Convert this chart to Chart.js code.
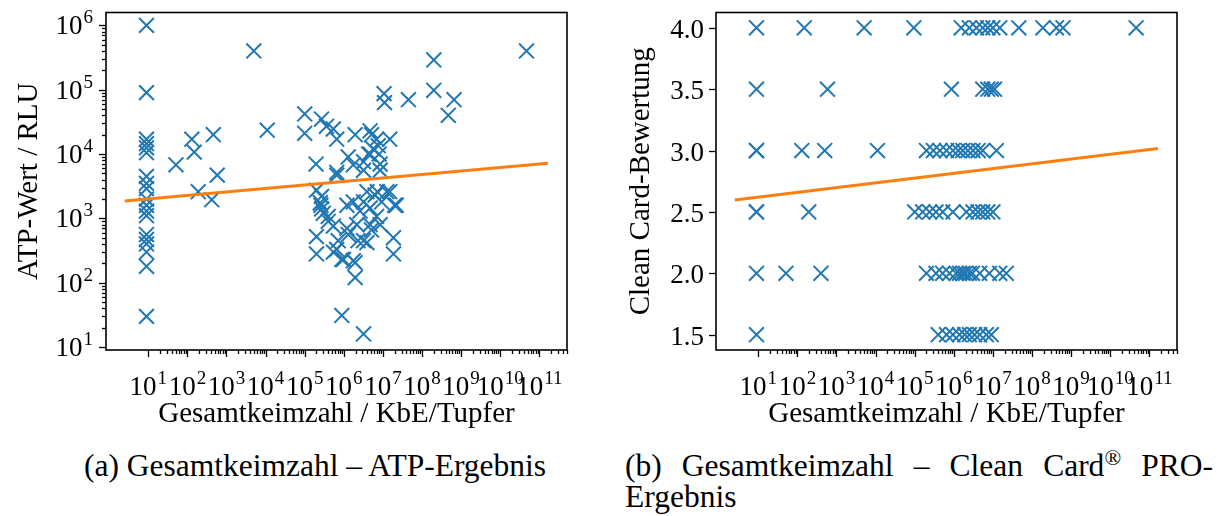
<!DOCTYPE html>
<html><head><meta charset="utf-8">
<script src="https://cdn.jsdelivr.net/npm/chart.js@4.4.1/dist/chart.umd.min.js"></script>
<style>
html,body{margin:0;padding:0;background:#fff;width:1228px;height:516px;overflow:hidden;}
#c1{position:absolute;left:0;top:0;}
#c2{position:absolute;left:614px;top:0;}
.cap{position:absolute;font-family:"Liberation Serif","DejaVu Serif",serif;font-size:31.5px;color:#000;line-height:32px;height:32px;white-space:nowrap;}
.reg{font-size:22px;line-height:0;position:relative;top:-11px;}
</style></head>
<body>
<canvas id="c1" width="614" height="440"></canvas>
<canvas id="c2" width="614" height="440"></canvas>
<div class="cap" style="left:0;width:630px;text-align:center;top:450px">(a) Gesamtkeimzahl – ATP-Ergebnis</div>
<div class="cap" style="left:625px;width:588px;top:450px;white-space:normal;text-align:justify;text-align-last:justify">(b) Gesamtkeimzahl – Clean Card<span class="reg">®</span> PRO-</div>
<div class="cap" style="left:625px;top:481px">Ergebnis</div>
<script>
// ---------- data ----------
// (a) Gesamtkeimzahl (KbE/Tupfer) vs ATP (RLU)
const atpX = [
  9, 9, 9, 9, 9, 9, 9, 9, 9, 9, 9, 9, 9, 9, 9, 9, 9, 9, 9,
  5.0e3, 2.0e8, 4.7e10, 2.0e8, 6.6e8, 4.7e8, 4.5e7, 1.07e7, 1.1e7,
  1.0e5, 1.0e5, 1.1e4, 2.7e5, 3.6e5, 5.4e5, 6.6e5, 1.95e6, 5.1e6, 6.9e6, 1.5e7,
  5.6e6, 7.6e6, 8.0e6, 4.3e6, 460, 130, 150, 51, 580, 1.95e5, 1.3e6, 1.75e6,
  6.6e5, 3.2e6, 3.2e6, 4.7e6, 8.5e6, 8.5e6, 4.7e6,
  190, 420, 2.0e5, 2.5e5, 3.0e5, 4.0e5, 5.4e5, 6.6e5, 2.0e5, 2.0e5, 2.7e5,
  6.6e5, 8.9e5, 9.8e5, 1.2e6, 1.3e6, 1.75e6, 1.95e6, 1.95e6, 2.3e6, 2.6e6,
  3.2e6, 3.2e6, 3.9e6, 3.9e6, 4.7e6, 5.1e6, 6.3e6, 6.9e6, 8.5e6, 9.3e6,
  1.26e7, 1.86e7, 1.86e7, 2.0e7, 5.4e5, 7.2e5, 8.9e5, 1.2e6, 1.75e6, 3.2e6,
  4.0e5, 2.15e6, 4.7e6, 2.7e5, 2.6e5, 7.2e6, 1.5e7, 2.2e7
];
const atpY = [
  1.0e6, 9.0e4, 1.7e4, 1.45e4, 1.25e4, 1.05e4, 4.5e3, 3.5e3, 2.9e3, 2.0e3, 1.6e3, 1.3e3, 1.1e3, 560, 470, 400, 300, 180, 30,
  4.0e5, 2.9e5, 4.0e5, 9.8e4, 7.0e4, 4.0e4, 7.0e4, 8.7e4, 6.3e4,
  4.2e4, 2.1e4, 2.35e4, 3.5e4, 2.7e4, 2.45e4, 1.7e4, 2.0e4, 2.0e4, 1.7e4, 1.7e4,
  1.2e4, 1.35e4, 1.0e4, 1.0e4, 2.0e4, 1.7e4, 1.07e4, 6.8e3, 4.7e3, 7.0e3, 9.0e3, 6.8e3,
  4.7e3, 7.6e3, 5.6e3, 2.3e4, 7.0e3, 5.6e3, 1.0e4,
  2.6e3, 1.95e3, 2.75e3, 1.75e3, 1.2e3, 1.07e3, 760, 5.2e3, 520, 280, 1.4e3,
  330, 31, 230, 1.6e3, 560, 1.8e3, 205, 120, 450, 1.3e3,
  16, 1.8e3, 420, 2.6e3, 1.45e3, 660, 2.3e3, 1.07e3, 800, 1.8e3,
  2.6e3, 500, 280, 1.6e3, 300, 450, 230, 700, 220, 450,
  900, 800, 800, 2.2e3, 1.6e3, 2.6e3, 2.6e3, 1.6e3
];
const atpTrendX = [2.5, 1.66e11];
const atpTrendY = [1870, 7200];

// (b) Gesamtkeimzahl (KbE/Tupfer) vs Clean Card PRO rating
const ccX = [
  9, 150, 5.1e3, 9.5e4, 1.55e6, 2.5e6, 3.8e6, 5.5e6, 7.4e6, 1.0e7, 1.5e7, 4.6e7, 1.9e8, 4.2e8, 6.2e8, 4.6e10,
  9, 590, 8.7e5, 5.5e6, 7.4e6, 9.1e6, 1.1e7,
  9, 9, 130, 500, 1.12e4, 2.0e5, 3.0e5, 4.4e5, 6.5e5, 9.5e5, 1.3e6, 1.7e6, 2.3e6, 3.1e6, 4.2e6, 5.5e6, 1.23e7,
  9, 9, 195, 1.0e5, 1.6e5, 2.4e5, 3.5e5, 5.2e5, 9.5e5, 2.1e6, 3.1e6, 4.2e6, 5.5e6, 7.4e6, 1.0e7,
  9, 51, 400, 2.0e5, 3.5e5, 5.2e5, 7.8e5, 1.15e6, 1.4e6, 1.7e6, 2.0e6, 2.5e6, 3.0e6, 4.6e6, 8.1e6, 1.5e7, 2.2e7,
  9, 4.0e5, 6.5e5, 9.5e5, 1.4e6, 1.9e6, 2.5e6, 3.4e6, 4.6e6, 6.8e6, 9.1e6
];
const ccY = [
  4.0, 4.0, 4.0, 4.0, 4.0, 4.0, 4.0, 4.0, 4.0, 4.0, 4.0, 4.0, 4.0, 4.0, 4.0, 4.0,
  3.5, 3.5, 3.5, 3.5, 3.5, 3.5, 3.5,
  3.0, 3.0, 3.0, 3.0, 3.0, 3.0, 3.0, 3.0, 3.0, 3.0, 3.0, 3.0, 3.0, 3.0, 3.0, 3.0, 3.0,
  2.5, 2.5, 2.5, 2.5, 2.5, 2.5, 2.5, 2.5, 2.5, 2.5, 2.5, 2.5, 2.5, 2.5, 2.5,
  2.0, 2.0, 2.0, 2.0, 2.0, 2.0, 2.0, 2.0, 2.0, 2.0, 2.0, 2.0, 2.0, 2.0, 2.0, 2.0, 2.0,
  1.5, 1.5, 1.5, 1.5, 1.5, 1.5, 1.5, 1.5, 1.5, 1.5, 1.5
];
const ccTrendX = [2.5, 1.66e11];
const ccTrendY = [2.597, 3.016];

// tick labels and titles
const xTickExps = [1, 2, 3, 4, 5, 6, 7, 8, 9, 10, 11];
const atpYTickExps = [1, 2, 3, 4, 5, 6];
const ccYTicks = [1.5, 2.0, 2.5, 3.0, 3.5, 4.0];
const xTitle = 'Gesamtkeimzahl / KbE/Tupfer';
const atpYTitle = 'ATP-Wert / RLU';
const ccYTitle = 'Clean Card-Bewertung';

// ---------- drawing ----------
const FONT = '"Liberation Serif", "DejaVu Serif", serif';
const BLUE = '#1f77b4', ORANGE = '#ff7f0e';
const BASE = 27, SUP = 19, TITLE = 29;

function pts(xs, ys) { return xs.map((x, i) => ({x: x, y: ys[i]})); }

function drawPow(ctx, n, x, y, align) {
  ctx.font = BASE + 'px ' + FONT;
  const w1 = ctx.measureText('10').width;
  ctx.font = SUP + 'px ' + FONT;
  const w2 = ctx.measureText(String(n)).width;
  const tot = w1 + 1 + w2;
  const x0 = align === 'center' ? x - tot / 2 : x - tot;
  ctx.textAlign = 'left';
  ctx.textBaseline = 'alphabetic';
  ctx.font = BASE + 'px ' + FONT;
  ctx.fillText('10', x0, y);
  ctx.font = SUP + 'px ' + FONT;
  ctx.fillText(String(n), x0 + w1 + 1, y - 11);
}

const framePlugin = {
  id: 'frame',
  afterDraw(chart, args, o) {
    const {ctx, chartArea: a, scales} = chart;
    const xs = scales.x, ys = scales.y;
    ctx.save();
    ctx.fillStyle = '#000';
    ctx.strokeStyle = '#000';
    // x ticks (log)
    ctx.lineWidth = 1.3;
    for (let e = 1; e <= 11; e++) {
      for (let k = 1; k <= 9; k++) {
        const v = k * Math.pow(10, e);
        if (v < xs.min || v > xs.max) continue;
        const p = Math.round(xs.getPixelForValue(v)) + 0.5;
        ctx.beginPath();
        ctx.moveTo(p, a.bottom);
        ctx.lineTo(p, a.bottom + (k === 1 ? 7 : 4));
        ctx.stroke();
      }
    }
    xTickExps.forEach(e => {
      drawPow(ctx, e, xs.getPixelForValue(Math.pow(10, e)), a.bottom + o.xLabelDy, 'center');
    });
    // y ticks
    if (o.yLog) {
      for (let e = 0; e <= 6; e++) {
        for (let k = 1; k <= 9; k++) {
          const v = k * Math.pow(10, e);
          if (v < ys.min * 1.02 || v > ys.max) continue;
          const p = Math.round(ys.getPixelForValue(v)) + 0.5;
          ctx.beginPath();
          ctx.moveTo(a.left, p);
          ctx.lineTo(a.left - (k === 1 ? 7 : 4), p);
          ctx.stroke();
        }
      }
      atpYTickExps.forEach(e => {
        drawPow(ctx, e, a.left - 13, ys.getPixelForValue(Math.pow(10, e)) + 9, 'right');
      });
    } else {
      ccYTicks.forEach(v => {
        const p = Math.round(ys.getPixelForValue(v)) + 0.5;
        ctx.beginPath();
        ctx.moveTo(a.left, p);
        ctx.lineTo(a.left - 7, p);
        ctx.stroke();
        ctx.font = BASE + 'px ' + FONT;
        ctx.textAlign = 'right';
        ctx.textBaseline = 'alphabetic';
        ctx.fillText(v.toFixed(1), a.left - 12, p + 9);
      });
    }
    // axis titles
    ctx.font = TITLE + 'px ' + FONT;
    ctx.textAlign = 'center';
    ctx.textBaseline = 'alphabetic';
    ctx.fillText(xTitle, (a.left + a.right) / 2, o.xTitleY);
    ctx.save();
    ctx.translate(o.yTitleX, (a.top + a.bottom) / 2);
    ctx.rotate(-Math.PI / 2);
    ctx.fillText(o.yTitle, 0, 0);
    ctx.restore();
    // frame
    ctx.lineWidth = 1.6;
    ctx.strokeRect(a.left, a.top, a.right - a.left, a.bottom - a.top);
    ctx.restore();
  }
};

function makeChart(id, dataXY, trendXY, yScale, yW, padRight, frameOpts) {
  return new Chart(document.getElementById(id), {
    type: 'scatter',
    data: {
      datasets: [
        {
          data: trendXY, showLine: true, borderColor: ORANGE, borderWidth: 3,
          pointRadius: 0, fill: false, tension: 0
        },
        {
          data: dataXY, pointStyle: 'crossRot', pointRadius: 10.5, borderWidth: 2,
          borderColor: BLUE, backgroundColor: BLUE, showLine: false
        }
      ]
    },
    options: {
      responsive: false, animation: false, devicePixelRatio: 1,
      layout: {padding: {left: 0, right: padRight, top: 9, bottom: 0}},
      plugins: {legend: {display: false}, tooltip: {enabled: false}, frame: frameOpts},
      events: [],
      scales: {
        x: {
          type: 'logarithmic', min: 0.83, max: 5.1e11, position: 'bottom',
          grid: {display: false, drawTicks: false}, border: {display: false},
          ticks: {display: false}, title: {display: false},
          afterFit: s => { s.height = 90; }
        },
        y: Object.assign({
          position: 'left',
          grid: {display: false, drawTicks: false}, border: {display: false},
          ticks: {display: false}, title: {display: false},
          afterFit: s => { s.width = yW; }
        }, yScale)
      }
    },
    plugins: [framePlugin]
  });
}

makeChart('c1', pts(atpX, atpY), pts(atpTrendX, atpTrendY),
  {type: 'logarithmic', min: 9.0, max: 1.585e6}, 106, 47,
  {yLog: true, xLabelDy: 45, xTitleY: 422, yTitleX: 37, yTitle: atpYTitle});
makeChart('c2', pts(ccX, ccY), pts(ccTrendX, ccTrendY),
  {type: 'linear', min: 1.375, max: 4.125}, 102, 51,
  {yLog: false, xLabelDy: 45, xTitleY: 422, yTitleX: 35, yTitle: ccYTitle});
</script>
</body></html>
